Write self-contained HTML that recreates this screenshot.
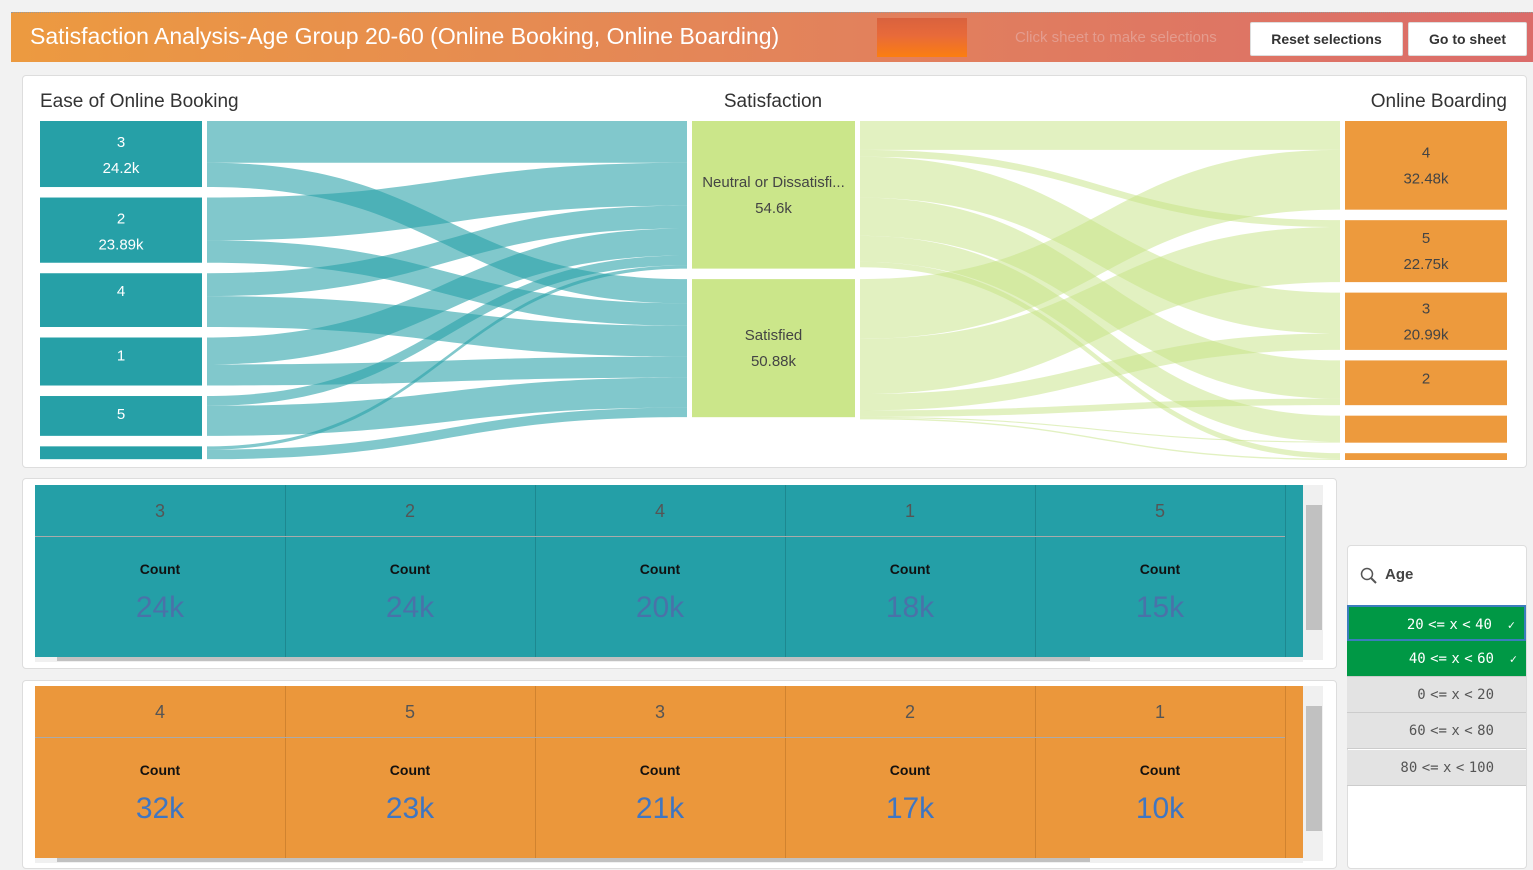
<!DOCTYPE html>
<html><head><meta charset="utf-8">
<style>
*{box-sizing:border-box;margin:0;padding:0}
body{width:1533px;height:870px;background:#f2f2f2;font-family:"Liberation Sans","DejaVu Sans",sans-serif;position:relative;overflow:hidden}
.abs{position:absolute}
.hdr{left:11px;top:12px;width:1522px;height:50px;background:linear-gradient(90deg,#ec9a40,#e3845a 50%,#db6c6a);border-top:1px dotted #999}
.btn{background:#fff;border:1px solid #ddd;border-radius:2px;font-size:14px;color:#333;text-align:center;line-height:32px;font-weight:bold}
.panel{background:#fff;border:1px solid #ddd;border-radius:4px}
.cell{position:absolute;text-align:center}
.cnt{font-size:14px;font-weight:bold;color:#111}
.big{font-size:30px}
.age{position:absolute;left:1347px;width:179px;height:36px;font-family:"DejaVu Sans Mono","Liberation Mono",monospace;font-size:14px;word-spacing:-4px;text-align:right;padding-right:32px;line-height:36px;border-bottom:1px solid #ccc}
</style></head><body>
<div class="abs hdr">
 <div class="abs" style="left:19px;top:10px;color:#fff;font-size:23px">Satisfaction Analysis-Age Group 20-60 (Online Booking, Online Boarding)</div>
 <div class="abs" style="left:866px;top:5px;width:90px;height:39px;background:linear-gradient(180deg,#d9623e,#e86a3a 45%,#fb7e10)"></div>
 <div class="abs" style="left:1004px;top:16px;color:#e49c8e;font-size:15px">Click sheet to make selections</div>
 <div class="abs btn" style="left:1239px;top:9px;width:153px;height:34px">Reset selections</div>
 <div class="abs btn" style="left:1397px;top:9px;width:119px;height:34px">Go to sheet</div>
</div>

<div class="abs panel" style="left:22px;top:75px;width:1505px;height:393px"></div>
<svg class="abs" style="left:0;top:0" width="1533" height="470" id="sk">
 <text x="40" y="107" font-size="19" fill="#333">Ease of Online Booking</text>
 <text x="773" y="107" font-size="19" fill="#333" text-anchor="middle">Satisfaction</text>
 <text x="1507" y="107" font-size="19" fill="#333" text-anchor="end">Online Boarding</text>
</svg>

<div class="abs panel" style="left:22px;top:478px;width:1315px;height:191px"></div>
<div class="abs" id="t1" style="left:35px;top:485px;width:1268px;height:172px;background:#249fa7"></div>
<div class="abs" style="left:1303px;top:485px;width:20px;height:175px;background:#f0f0f0"><div class="abs" style="left:3px;top:20px;width:16px;height:125px;background:#c1c1c1"></div></div>
<div class="abs" style="left:35px;top:657px;width:1268px;height:5px;background:#f0f0f0"><div class="abs" style="left:22px;top:0;width:1033px;height:4px;background:#c1c1c1"></div></div>

<div class="abs panel" style="left:22px;top:680px;width:1315px;height:189px"></div>
<div class="abs" id="t2" style="left:35px;top:686px;width:1268px;height:172px;background:#eb973b"></div>
<div class="abs" style="left:1303px;top:686px;width:20px;height:175px;background:#f0f0f0"><div class="abs" style="left:3px;top:20px;width:16px;height:125px;background:#c1c1c1"></div></div>
<div class="abs" style="left:35px;top:858px;width:1268px;height:5px;background:#f0f0f0"><div class="abs" style="left:22px;top:0;width:1033px;height:4px;background:#c1c1c1"></div></div>

<div class="abs panel" style="left:1347px;top:545px;width:180px;height:324px">
 <svg class="abs" style="left:12px;top:21px" width="18" height="18"><circle cx="7" cy="7" r="5.5" fill="none" stroke="#555" stroke-width="1.5"/><line x1="11" y1="11" x2="16" y2="16" stroke="#555" stroke-width="2"/></svg>
 <div class="abs" style="left:37px;top:20px;font-size:15px;font-weight:bold;color:#444">Age</div>
</div>
<div class="age" style="top:605px;background:#009845;color:#fff;border:2px solid #3b7dbd">20 &lt;= x &lt; 40<span class="abs" style="right:9px;top:0;font-size:12px">✓</span></div>
<div class="age" style="top:641px;background:#009845;color:#fff">40 &lt;= x &lt; 60<span class="abs" style="right:9px;top:0;font-size:12px">✓</span></div>
<div class="age" style="top:677px;background:#e3e3e3;color:#555">0 &lt;= x &lt; 20</div>
<div class="age" style="top:713px;background:#e3e3e3;color:#555">60 &lt;= x &lt; 80</div>
<div class="age" style="top:750px;background:#e3e3e3;color:#555">80 &lt;= x &lt; 100</div>

<script>
// Sankey data (thousands)
const leftNames=["3","2","4","1","5","0"];
const leftLabels=["24.2k","23.89k","","","",""];
const midNames=["Neutral or Dissatisfi...","Satisfied"];
const midLabels=["54.6k","50.88k"];
const rightNames=["4","5","3","2","",""];
const rightLabels=["32.48k","22.75k","20.99k","","",""];
const toNeutral=[15.3,15.7,8.4,9.9,3.6,1.2];
const toSatisfied=[8.9,8.2,11.3,7.7,11.0,3.5];
const fromNeutral=[10.6,2.5,15.0,14.0,9.5,2.0];
const fromSatisfied=[21.9,20.2,6.0,2.4,0.4,0.5];
// table data
const bookCats=["3","2","4","1","5"];
const bookVals=["24k","24k","20k","18k","15k"];
const boardCats=["4","5","3","2","1"];
const boardVals=["32k","23k","21k","17k","10k"];

const NS="http://www.w3.org/2000/svg";
const svg=document.getElementById('sk');
const top0=121,bottom0=460,gap=10.5;
function mk(t,a){const e=document.createElementNS(NS,t);for(const k in a)e.setAttribute(k,a[k]);svg.appendChild(e);return e;}
const leftTot=leftNames.map((_,i)=>toNeutral[i]+toSatisfied[i]);
const rightTot=rightNames.map((_,i)=>fromNeutral[i]+fromSatisfied[i]);
const midTot=[toNeutral.reduce((a,b)=>a+b,0),toSatisfied.reduce((a,b)=>a+b,0)];
const total=Math.max(leftTot.reduce((a,b)=>a+b,0),rightTot.reduce((a,b)=>a+b,0));
const scale=(bottom0-top0-gap*5)/total;
function layout(tots){let y=top0;return tots.map(v=>{const r={y:y,h:v*scale};y+=v*scale+gap;return r;});}
const L=layout(leftTot),M=layout(midTot),R=layout(rightTot);
function link(x0,y0,x1,y1,h,col,op){
  const cx=(x0+x1)/2;
  const d=`M${x0},${y0}C${cx},${y0} ${cx},${y1} ${x1},${y1}L${x1},${y1+h}C${cx},${y1+h} ${cx},${y0+h} ${x0},${y0+h}Z`;
  const p=mk('path',{d:d,fill:col,'fill-opacity':op});
  
  
}
const lOff=L.map(n=>n.y);const mInOff=M.map(n=>n.y);
leftNames.forEach((_,i)=>{[toNeutral[i],toSatisfied[i]].forEach((v,j)=>{
  const h=v*scale;link(207,lOff[i],687,mInOff[j],h,'#26a0a7',0.58);lOff[i]+=h;mInOff[j]+=h;});});
const mOut=M.map(n=>n.y);const rIn=R.map(n=>n.y);
[fromNeutral,fromSatisfied].forEach((arr,j)=>{arr.forEach((v,k)=>{
  const h=v*scale;link(860,mOut[j],1340,rIn[k],h,'#c5e384',0.5);mOut[j]+=h;rIn[k]+=h;});});
function node(x,w,n,name,label,col,tc,tag,centered){
  const r=mk('rect',{x:x,y:n.y,width:w,height:n.h,fill:col});
  
  
  const cx=x+w/2;
  let ty;
  if(centered) ty=label? n.y+n.h/2-8 : n.y+Math.min(n.h/2+5,23);
  else ty=label? n.y+Math.min(26,n.h/2-4) : n.y+Math.min(23,n.h/2+5);
  if(n.h>20&&name){const t=mk('text',{x:cx,y:ty,'text-anchor':'middle','font-size':15,fill:tc});t.textContent=name;
    }
  if(n.h>20&&label){const t=mk('text',{x:cx,y:ty+26,'text-anchor':'middle','font-size':15,fill:tc});t.textContent=label;
    }
}
L.forEach((n,i)=>node(40,162,n,leftNames[i],leftLabels[i],'#26a0a7','#fff','left',false));
M.forEach((n,i)=>node(692,163,n,midNames[i],midLabels[i],'#cbe68a','#444','middle',true));
R.forEach((n,i)=>node(1345,162,n,rightNames[i],rightLabels[i],'#ed9a3d','#444','right',true));
function table(id,cats,vals,line,valCol){
  const t=document.getElementById(id);
  cats.forEach((c,i)=>{
    const x=i*250;
    const col=document.createElement('div');
    col.className='cell';col.style.left=x+'px';col.style.top='0';col.style.width='251px';col.style.height='100%';
    col.style.borderRight='1px solid '+line;
    
    
    col.innerHTML=`<div style="height:52px;line-height:52px;font-size:18px;color:#555;border-bottom:1px solid #aaa">${c}</div><div class="cnt" style="margin-top:24px">Count</div><div class="big" style="margin-top:14px;color:${valCol}">${vals[i]}</div>`;
    t.appendChild(col);
  });
}
table('t1',bookCats,bookVals,'#1d8890','#4a72a8');
table('t2',boardCats,boardVals,'#d0832f','#3f76c2');
</script>
</body></html>
